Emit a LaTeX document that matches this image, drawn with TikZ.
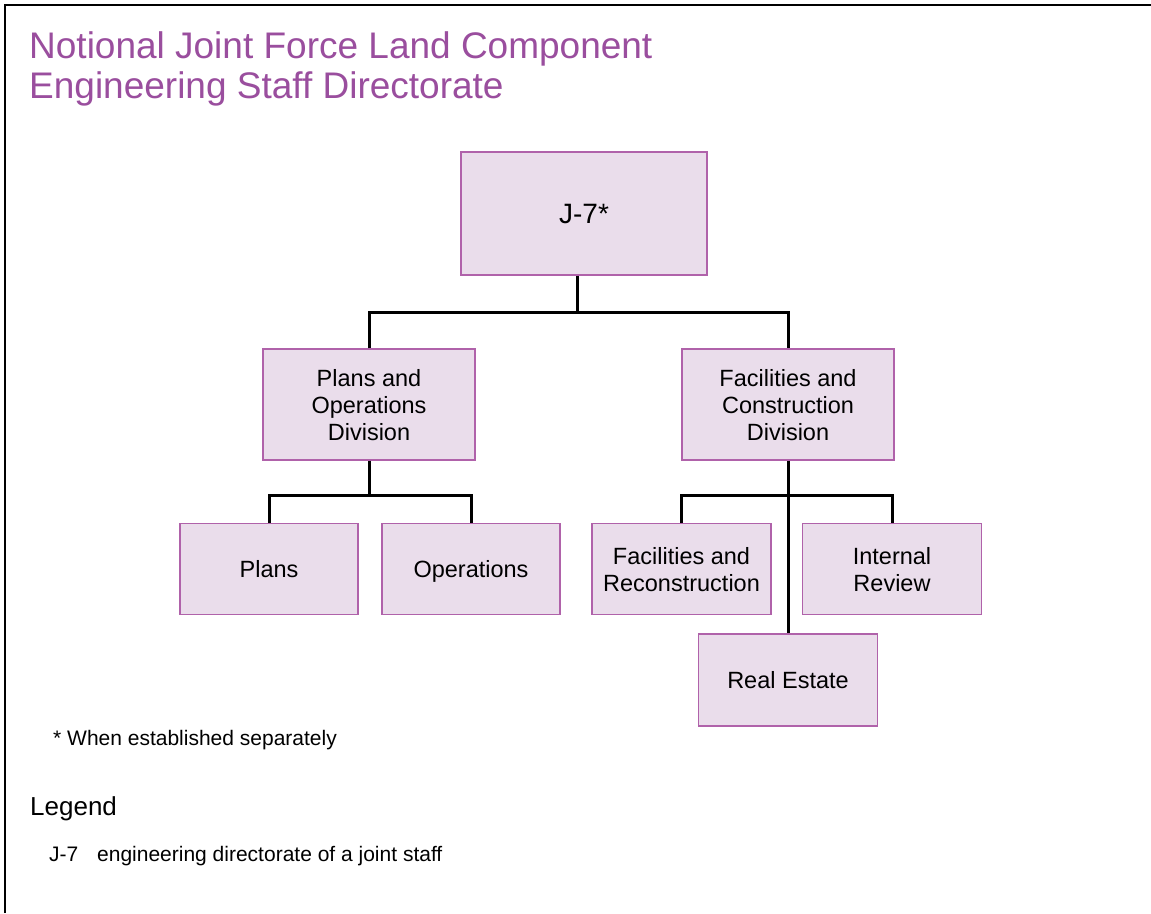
\documentclass[tikz,border=0pt]{standalone}
\usepackage{fontspec}
\setmainfont{Liberation Sans}
\definecolor{boxfill}{HTML}{EADDEB}
\definecolor{boxline}{HTML}{B062AA}
\definecolor{titlecol}{HTML}{9A4E9E}
\begin{document}
\begin{tikzpicture}[x=1pt,y=-1pt,
  orgbox/.style={draw=boxline,fill=boxfill,line width=1.4pt,inner sep=0pt,align=center,
    text depth=0pt,font=\fontsize{23.5}{27}\selectfont},
  conn/.style={draw=black,line width=3pt},
  txt/.style={inner sep=0pt,anchor=base west}]
\useasboundingbox (0,0) rectangle (1151,913);
\fill[white] (0,0) rectangle (1151,913);
\draw[line width=2.5pt] (5,913) -- (5,5) -- (1151,5);
% title
\node[txt,text=titlecol,font=\fontsize{37}{40}\selectfont] (t1) at (29,58) {Notional Joint Force Land Component};
\node[txt,text=titlecol,font=\fontsize{37}{40}\selectfont] (t2) at (29,98) {Engineering Staff Directorate};
% boxes
\node[orgbox,minimum width=246pt,minimum height=123pt,font=\fontsize{28}{32}\selectfont] (j7) at (584,213.5) {J-7*};
\node[orgbox,minimum width=212pt,minimum height=111pt] (po) at (369,404.5) {Plans and\\Operations\\Division};
\node[orgbox,minimum width=212pt,minimum height=111pt] (fc) at (788,404.5) {Facilities and\\Construction\\Division};
\node[orgbox,minimum width=178pt,minimum height=91pt] (plans) at (269,569) {Plans};
\node[orgbox,minimum width=178pt,minimum height=91pt] (ops) at (471,569) {Operations};
\node[orgbox,minimum width=179pt,minimum height=91pt] (fr) at (681.5,569) {Facilities and\\Reconstruction};
\node[orgbox,minimum width=179pt,minimum height=91pt] (ir) at (892,569) {Internal\\Review};
\node[orgbox,minimum width=179pt,minimum height=92pt] (re) at (788,680) {Real Estate};
% connectors
\draw[conn] ([xshift=-7pt]j7.south) -- ++(0,38);
\draw[conn] (po.north) -- ++(0,-36) -| (fc.north);
\draw[conn] (po.south) -- ++(0,36);
\draw[conn] (plans.north) -- ++(0,-27) -| (ops.north);
\draw[conn] (fc.south) -- (re.north);
\draw[conn] (fr.north) -- ++(0,-27) -| (ir.north);
% notes
\node[txt,font=\fontsize{21}{25}\selectfont] (fn) at (53,745) {* When established separately};
\node[txt,font=\fontsize{26}{30}\selectfont] (leg) at (30,815) {Legend};
\node[txt,font=\fontsize{21}{25}\selectfont] (legj) at (49,861) {J-7};
\node[txt,font=\fontsize{21}{25}\selectfont] (legt) at (97,861) {engineering directorate of a joint staff};
\end{tikzpicture}
\end{document}
